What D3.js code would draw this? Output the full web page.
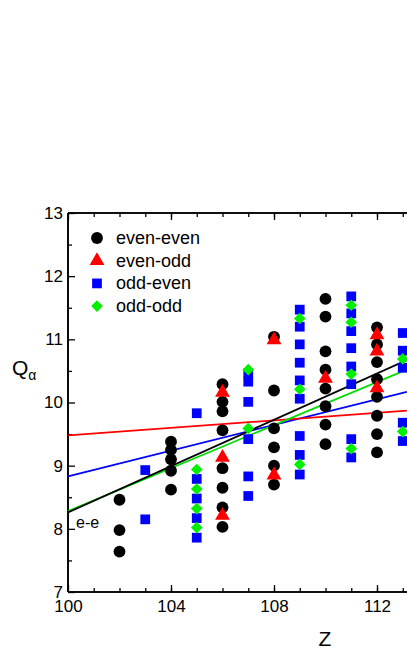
<!DOCTYPE html>
<html><head><meta charset="utf-8">
<script src="https://cdn.jsdelivr.net/npm/d3@7"></script>
<style>body{margin:0;background:#fff}svg{display:block;font-family:"Liberation Sans",Arial,sans-serif}</style>
</head><body><div id="chart"></div>
<script>
const evenEven = [[102,8.46],[102,7.98],[102,7.64],
  [104,9.38],[104,9.25],[104,9.10],[104,8.92],[104,8.62],
  [106,10.29],[106,10.01],[106,9.86],[106,9.56],[106,8.96],[106,8.65],[106,8.34],[106,8.03],
  [108,11.04],[108,10.19],[108,9.59],[108,9.29],[108,9.0],[108,8.70],
  [110,11.64],[110,11.36],[110,10.81],[110,10.52],[110,10.22],[110,9.94],[110,9.65],[110,9.34],
  [112,11.19],[112,10.92],[112,10.64],[112,10.37],[112,10.09],[112,9.79],[112,9.50],[112,9.21]];
const evenOdd = [[106,10.16],[106,9.13],[106,8.21],[108,10.99],[108,8.85],[110,10.38],
  [112,11.07],[112,10.81],[112,10.23]];
const oddEven = [[103,8.93],[103,8.15],
  [105,9.83],[105,8.79],[105,8.48],[105,8.17],[105,7.86],
  [107,10.46],[107,10.33],[107,10.01],[107,9.42],[107,8.83],[107,8.52],
  [109,11.47],[109,11.20],[109,10.92],[109,10.63],[109,10.35],[109,10.06],[109,9.47],[109,9.17],[109,8.86],
  [111,11.68],[111,11.41],[111,11.13],[111,10.86],[111,10.57],[111,10.29],[111,9.42],[111,9.13],
  [113,11.10],[113,10.82],[113,10.55],[113,9.68],[113,9.39]];
const oddOdd = [[105,8.94],[105,8.63],[105,8.32],[105,8.02],[107,10.52],[107,9.59],
  [109,11.33],[109,10.21],[109,9.02],[111,11.54],[111,11.27],[111,10.45],[111,9.27],[113,10.69],[113,9.54]];
// fit lines: [x0,y0],[x1,y1]
const fitEE = [[100,8.26],[113.16,10.67]];
const fitEO = [[100,9.48],[113.16,9.87]];
const fitOE = [[100,8.83],[113.16,10.17]];
const fitOO = [[100,8.28],[113.16,10.52]];
const xTicks = [100,104,108,112];
const yTicks = [7,8,9,10,11,12,13];

const W = 407, H = 654;
const x = d3.scaleLinear().domain([100,112]).range([68,377]);
const y = d3.scaleLinear().domain([7,13]).range([592,213]);
const xEnd = 116;

const svg = d3.select("#chart").append("svg").attr("width",W).attr("height",H);

svg.append("g").attr("class","hx").attr("transform",`translate(0,${y(7)})`)
  .call(d3.axisBottom(x).tickValues(xTicks).tickSize(-7).tickPadding(8).tickFormat(d3.format("d")));
svg.append("g").attr("class","hx").attr("transform",`translate(0,${y(7)})`)
  .call(d3.axisBottom(x).tickValues(d3.range(101,116,1)).tickSize(-4).tickFormat(""));
svg.append("g").attr("class","hx").attr("transform",`translate(0,${y(13)})`)
  .call(d3.axisTop(x).tickValues([100,104,108,112,116]).tickSize(-7).tickFormat(""));
svg.append("g").attr("class","hx").attr("transform",`translate(0,${y(13)})`)
  .call(d3.axisTop(x).tickValues(d3.range(101,116,1)).tickSize(-4).tickFormat(""));
svg.append("g").attr("class","vy").attr("transform",`translate(${x(100)},0)`)
  .call(d3.axisLeft(y).tickValues(yTicks).tickSize(-7).tickPadding(5).tickFormat(d3.format("d")));
svg.append("g").attr("class","vy").attr("transform",`translate(${x(100)},0)`)
  .call(d3.axisLeft(y).tickValues(d3.range(7.5,13,1)).tickSize(-4).tickFormat(""));
svg.selectAll(".domain").attr("stroke","#000").attr("stroke-width",1.6);
svg.selectAll(".hx .domain").attr("d",`M${x(100)},0H${x(xEnd)}`);
svg.selectAll(".vy .domain").attr("d",`M0,${y(7)}V${y(13)}`);
svg.selectAll(".tick line").attr("stroke","#000").attr("stroke-width",1.3);
svg.selectAll(".tick text").attr("font-size",17).attr("fill","#000")
  .attr("font-family","'Liberation Sans',Arial,sans-serif");

const line = d3.line().x(d=>x(d[0])).y(d=>y(d[1]));
[[fitOE,"#0000ff"],[fitEO,"#ff0000"],[fitOO,"#00dd00"],[fitEE,"#000"]].forEach(([d,c])=>{
  svg.append("path").datum(d).attr("d",line).attr("fill","none").attr("stroke",c).attr("stroke-width",1.8);
});

const sym = (type,size) => d3.symbol().type(type).size(size);
const series = [
  {data:evenEven, name:"even-even", color:"#000", type:d3.symbolCircle, size:110, rot:0},
  {data:evenOdd, name:"even-odd", color:"#ff0000", type:d3.symbolTriangle, size:95, rot:0},
  {data:oddEven, name:"odd-even", color:"#0000ff", type:d3.symbolSquare, size:95, rot:0},
  {data:oddOdd, name:"odd-odd", color:"#00ee00", type:d3.symbolSquare, size:68, rot:45}
];
series.forEach(s=>{
  svg.append("g").selectAll("path").data(s.data).join("path")
    .attr("d",sym(s.type,s.size))
    .attr("transform",d=>`translate(${x(d[0])},${y(d[1])}) rotate(${s.rot})`)
    .attr("fill",s.color);
});

const leg = svg.append("g");
series.forEach((s,i)=>{
  const yy = 238 + i*22.7;
  leg.append("path").attr("d",sym(s.type,s.size)).attr("fill",s.color)
    .attr("transform",`translate(97,${yy}) rotate(${s.rot})`);
  leg.append("text").attr("x",116).attr("y",yy+6).attr("font-size",18).text(s.name);
});

svg.append("text").attr("x",x(100)+8).attr("y",y(8.02)).attr("font-size",16).text("e-e");

svg.append("text").attr("x",325).attr("y",646).attr("font-size",21).attr("text-anchor","middle").text("Z");
const q = svg.append("text").attr("x",12).attr("y",375).attr("font-size",21);
q.append("tspan").text("Q");
q.append("tspan").attr("font-size",14).attr("dy",5).text("α");
</script></body></html>
